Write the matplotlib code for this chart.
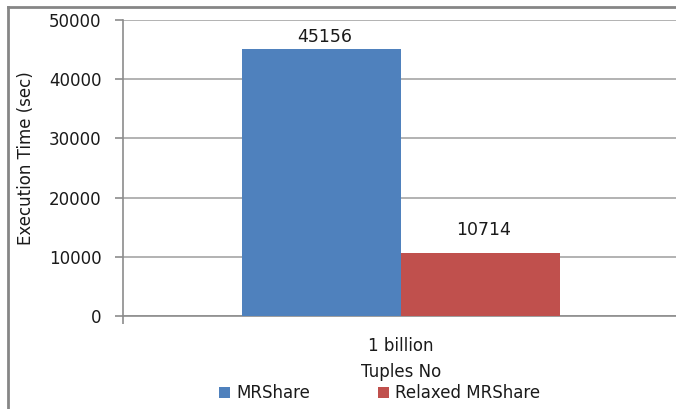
import matplotlib
matplotlib.use("Agg")
import matplotlib.pyplot as plt
from matplotlib.lines import Line2D

categories = ["1 billion"]
series_names = ["MRShare", "Relaxed MRShare"]
mrshare = [45156]
relaxed = [10714]
yticks = [0, 10000, 20000, 30000, 40000, 50000]

plt.rcParams['font.family'] = ['DejaVu Sans']

fig = plt.figure(figsize=(6.76, 4.09), dpi=100)
ax = fig.add_axes([0.182, 0.2274, 0.823, 0.7236])

w = 0.286
colors = ["#4F81BD", "#C0504D"]
x = list(range(len(categories)))
b1 = ax.bar([i - w/2 for i in x], mrshare, width=w, color=colors[0], label=series_names[0], zorder=3)
b2 = ax.bar([i + w/2 for i in x], relaxed, width=w, color=colors[1], label=series_names[1], zorder=3)
label_offsets = [4.5, 12.3]
for bars, vals, off in ((b1, mrshare, label_offsets[0]), (b2, relaxed, label_offsets[1])):
    for r, v in zip(bars, vals):
        ax.annotate(str(v), (r.get_x() + r.get_width()/2, v), xytext=(2, off),
                    textcoords="offset points", ha="center", va="baseline", fontsize=12.5, color="#1a1a1a")

ax.set_xlim(-0.5, 0.5)
ax.set_ylim(0, 50000)
ax.set_yticks(yticks)
ax.set_yticklabels([str(t) for t in yticks], fontsize=12, color="#1a1a1a")
ax.yaxis.grid(True, color="#A6A6A6", linewidth=1.2, zorder=0)
ax.set_axisbelow(True)
ax.set_xticks(x)
ax.set_xticklabels(categories, fontsize=12, color="#1a1a1a")
ax.tick_params(axis='x', length=0, pad=15)
ax.set_xticks([-0.5], minor=True)
ax.tick_params(axis='x', which='minor', length=6, color="#8C8C8C", width=1.2)
ax.tick_params(axis='y', length=6, color="#8C8C8C", width=1.2, pad=9.5)
for s in ("top", "right"):
    ax.spines[s].set_visible(False)
for s in ("left", "bottom"):
    ax.spines[s].set_color("#8C8C8C")
    ax.spines[s].set_linewidth(1.2)

ax.set_xlabel("Tuples No", fontsize=12, labelpad=6, color="#1a1a1a")
ax.set_ylabel("Execution Time (sec)", fontsize=12, color="#1a1a1a", va="center", ha="center")
ax.yaxis.set_label_coords(-0.1745, 0.535)

leg = fig.legend(handles=[b1, b2], labels=series_names, loc="center", bbox_to_anchor=(0.562, 0.039),
                 ncol=2, frameon=False, fontsize=12, handlelength=0.66, handleheight=0.66,
                 columnspacing=4.1, handletextpad=0.35, borderpad=0, borderaxespad=0)
for t in leg.get_texts():
    t.set_color("#1a1a1a")

fig.add_artist(Line2D([8/676, 8/676], [0, 1 - 7/409], transform=fig.transFigure, color="#868686", linewidth=2))
fig.add_artist(Line2D([8/676, 1], [1 - 7/409, 1 - 7/409], transform=fig.transFigure, color="#868686", linewidth=2))

fig.savefig("out.png", dpi=100)
